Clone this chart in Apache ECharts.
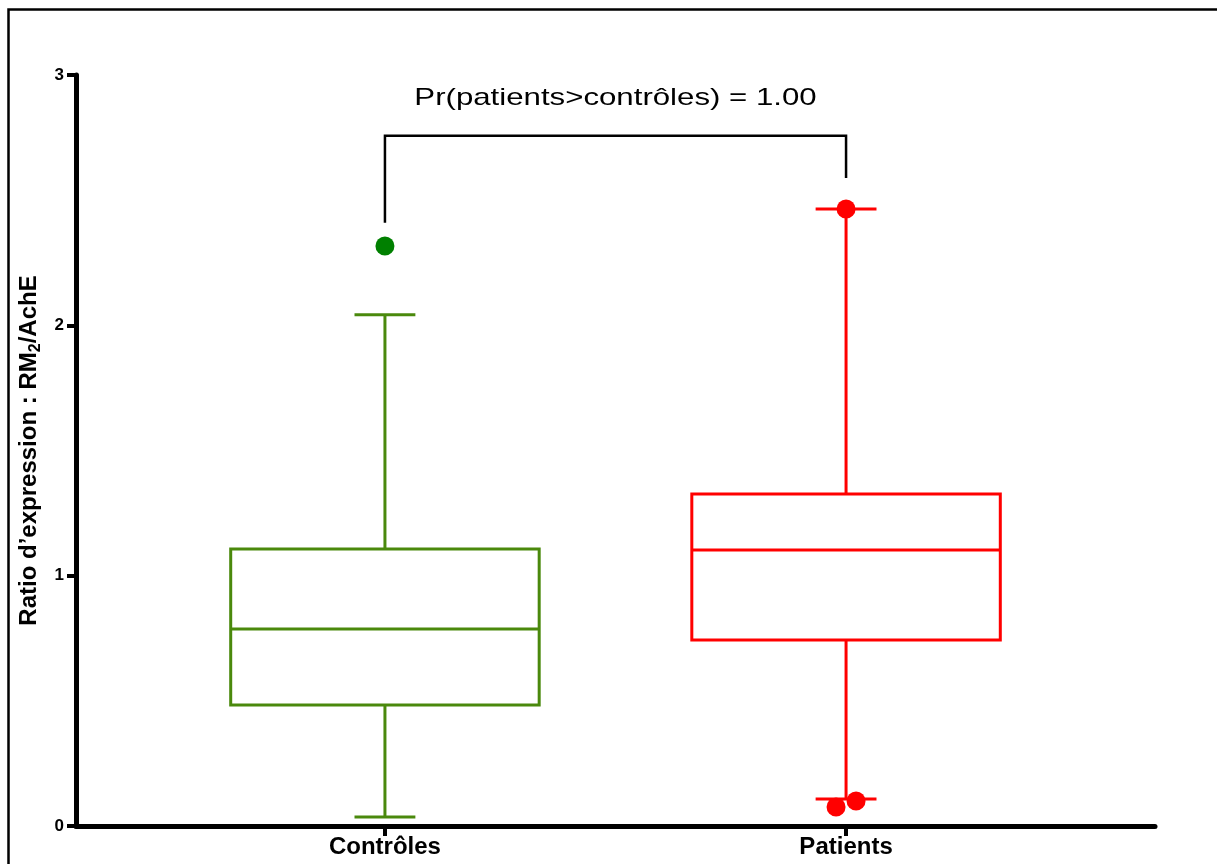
<!DOCTYPE html>
<html><head><meta charset="utf-8">
<script src="https://cdn.jsdelivr.net/npm/echarts@6/dist/echarts.min.js"></script>
<style>html,body{margin:0;padding:0;background:#fff}#c{width:1217px;height:864px}</style>
</head><body><div id="c"></div>
<script>
// ---- data ----
const categories = ['Contrôles', 'Patients'];
const categoryPositions = [0, 1];
const whiskerLow = [0.036, 0.108];
const quartile1 = [0.483, 0.743];
const medians = [0.787, 1.103];
const quartile3 = [1.107, 1.326];
const whiskerHigh = [2.042, 2.465];
const outlierCategory = [0, 1, 1, 1];
const outlierValues = [2.317, 2.465, 0.076, 0.100];
const outlierJitter = [0, 0, -0.0217, 0.0217]; // in category-spacing units
const yTickValues = [0, 1, 2, 3];
const bracketValues = [2.41, 2.757, 2.589]; // left leg bottom, top bar, right leg bottom
const annotationValue = 2.905;
const annotationText = 'Pr(patients>contrôles) = 1.00';

// ---- styles ----
const lineColors = ['#4a890c', '#ff0000'];
const dotColors = ['#008000', '#ff0000'];
const FONT = '"Liberation Sans", Arial, Helvetica, sans-serif';

const boxData = categoryPositions.map((x, i) => [x, whiskerLow[i], quartile1[i], medians[i], quartile3[i], whiskerHigh[i], i]);
const outlierData = outlierValues.map((v, i) => [categoryPositions[outlierCategory[i]] + outlierJitter[i], v, outlierCategory[i]]);

function renderBox(params, api) {
  const i = api.value(6);
  const cx = api.coord([api.value(0), 0])[0];
  const unit = api.size([1, 0])[0];
  const half = unit * 0.3345;
  const cap = unit * 0.066;
  const y = k => api.coord([api.value(0), api.value(k)])[1];
  const yLo = y(1), yQ1 = y(2), yMed = y(3), yQ3 = y(4), yHi = y(5);
  const st = { stroke: lineColors[i], lineWidth: 3, fill: null };
  const ln = (x1, y1, x2, y2) => ({ type: 'line', shape: { x1, y1, x2, y2 }, style: st });
  return {
    type: 'group',
    children: [
      ln(cx, yQ3, cx, yHi),
      ln(cx, yQ1, cx, yLo),
      ln(cx - cap, yHi, cx + cap, yHi),
      ln(cx - cap, yLo, cx + cap, yLo),
      { type: 'rect', shape: { x: cx - half, y: yQ3, width: 2 * half, height: yQ1 - yQ3 }, style: { stroke: lineColors[i], lineWidth: 3, fill: '#fff' } },
      ln(cx - half, yMed, cx + half, yMed)
    ]
  };
}

function renderDot(params, api) {
  const p = api.coord([api.value(0), api.value(1)]);
  return {
    type: 'circle',
    shape: { cx: p[0], cy: p[1], r: 9.5 },
    style: { fill: dotColors[api.value(2)] }
  };
}

function renderBracket(params, api) {
  if (params.dataIndex !== 0) return;
  const xL = api.coord([categoryPositions[0], 0])[0];
  const xR = api.coord([categoryPositions[1], 0])[0];
  const yL = api.coord([0, bracketValues[0]])[1];
  const yT = api.coord([0, bracketValues[1]])[1];
  const yR = api.coord([0, bracketValues[2]])[1];
  const yText = api.coord([0, annotationValue])[1];
  return {
    type: 'group',
    children: [
      { type: 'polyline', shape: { points: [[xL, yL], [xL, yT], [xR, yT], [xR, yR]] }, style: { stroke: '#000', lineWidth: 2.5, fill: null } },
      { type: 'text', x: (xL + xR) / 2, y: yText, scaleX: 1.3, scaleY: 1,
        style: { x: 0, y: 0, text: annotationText, font: '24px ' + FONT, fill: '#000', align: 'center', verticalAlign: 'middle' } }
    ]
  };
}

const chart = echarts.init(document.getElementById('c'), null, { renderer: 'canvas' });
chart.setOption({
  backgroundColor: '#fff',
  animation: false,
  graphic: [{
    type: 'rect', shape: { x: 8.5, y: 9.5, width: 1400, height: 1000 },
    style: { stroke: '#000', lineWidth: 2.5, fill: null }, z: 100
  }],
  grid: { left: 76, right: 62, top: 75, bottom: 38, containLabel: false },
  xAxis: {
    type: 'value',
    min: -0.67, max: 1.67,
    axisLine: { onZero: false, lineStyle: { color: '#000', width: 5 } },
    axisTick: { show: true, customValues: categoryPositions, length: 10, lineStyle: { color: '#000', width: 4 } },
    axisLabel: { customValues: categoryPositions, margin: 9, fontFamily: FONT, fontWeight: 'bold', fontSize: 24, color: '#000',
      formatter: v => categories[categoryPositions.indexOf(Math.round(v))] || '' },
    splitLine: { show: false }
  },
  yAxis: {
    type: 'value',
    min: 0, max: 3, interval: 1,
    name: '{a|Ratio d’expression : RM}{s|2}{a|/AchE}',
    nameLocation: 'middle',
    nameGap: 28,
    nameRotate: 90,
    nameTextStyle: {
      rich: {
        a: { fontFamily: FONT, fontWeight: 'bold', fontSize: 24, color: '#000', lineHeight: 28 },
        s: { fontFamily: FONT, fontWeight: 'bold', fontSize: 16, color: '#000', lineHeight: 16, verticalAlign: 'bottom' }
      }
    },
    axisLine: { show: true, onZero: false, lineStyle: { color: '#000', width: 5 } },
    axisTick: { show: true, length: 9, lineStyle: { color: '#000', width: 4 } },
    axisLabel: { margin: 12, fontFamily: FONT, fontWeight: 'bold', fontSize: 17, color: '#000',
      formatter: v => yTickValues.includes(v) ? String(v) : '' },
    splitLine: { show: false }
  },
  series: [
    { type: 'custom', renderItem: renderBracket, data: [[0, 0]], encode: { x: 0, y: 1 }, clip: false, z: 3, silent: true },
    { type: 'custom', renderItem: renderBox, data: boxData, encode: { x: 0, y: [1, 2, 3, 4, 5] }, clip: false, z: 2, silent: true },
    { type: 'custom', renderItem: renderDot, data: outlierData, encode: { x: 0, y: 1 }, clip: false, z: 4, silent: true }
  ]
});
</script>
</body></html>
